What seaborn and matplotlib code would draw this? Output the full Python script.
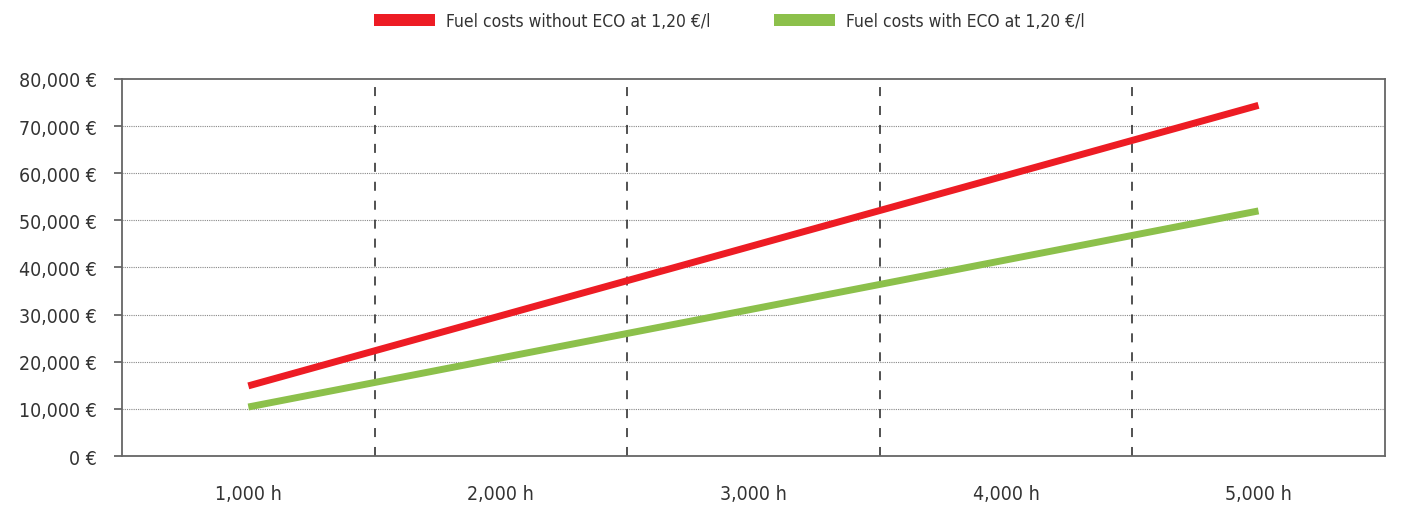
import matplotlib
matplotlib.use("Agg")
import matplotlib.pyplot as plt
from matplotlib.patches import Patch
from matplotlib.ticker import FuncFormatter
import seaborn as sns
import pandas as pd

hours = ["1,000 h", "2,000 h", "3,000 h", "4,000 h", "5,000 h"]
without_eco = [14880, 29760, 44640, 59520, 74400]
with_eco = [10400, 20800, 31200, 41600, 52000]
series_names = ["Fuel costs without ECO at 1,20 €/l", "Fuel costs with ECO at 1,20 €/l"]
colors = ["#ED1C24", "#8CC04B"]
y_ticks = [0, 10000, 20000, 30000, 40000, 50000, 60000, 70000, 80000]

sns.set_theme(style="white")
plt.rcParams["font.family"] = ["DejaVu Sans"]
plt.rcParams["font.stretch"] = "condensed"

df = pd.DataFrame({
    "hours": hours * 2,
    "cost": without_eco + with_eco,
    "series": [series_names[0]] * len(hours) + [series_names[1]] * len(hours),
})

fig = plt.figure(figsize=(14.03, 5.06), dpi=100)
ax = fig.add_axes([0.087, 0.0968, 0.9, 0.7452])

sns.lineplot(data=df, x="hours", y="cost", hue="series", palette=colors,
             linewidth=5, ax=ax, legend=False, sort=False)
for ln in ax.get_lines():
    ln.set_solid_capstyle("butt")
    ln.set_zorder(5)

ax.set_xlim(-0.5, len(hours) - 0.5)
ax.set_ylim(0, 80000)
ax.set_yticks(y_ticks)
ax.yaxis.set_major_formatter(FuncFormatter(lambda v, p: f"{int(v):,} €"))

for yv in y_ticks[1:-1]:
    ax.axhline(yv, color="#888888", linestyle=(0, (1, 1)), linewidth=0.8, zorder=1)
for xv in range(len(hours) - 1):
    ax.axvline(xv + 0.5, color="#222222", linestyle=(0, (5.9, 6.5)), linewidth=1.1, zorder=2)

for s in ax.spines.values():
    s.set_color("#666666")
    s.set_linewidth(1.3)
    s.set_visible(True)

ax.tick_params(axis="y", length=6, width=1.3, color="#666666", labelsize=14,
               labelcolor="#333333", pad=12, left=True)
ax.tick_params(axis="x", length=0, labelsize=14, labelcolor="#333333", pad=20)
ax.set_xlabel("")
ax.set_ylabel("")

handles = [Patch(facecolor=c, edgecolor="none") for c in colors]
ax.legend(handles, series_names, loc="center", bbox_to_anchor=(0.481, 1.154),
          ncol=2, frameon=False, fontsize=12.5, handlelength=3.5, handleheight=0.7,
          handletextpad=0.63, columnspacing=3.7, labelcolor="#333333")

fig.savefig("out.png", dpi=100)
